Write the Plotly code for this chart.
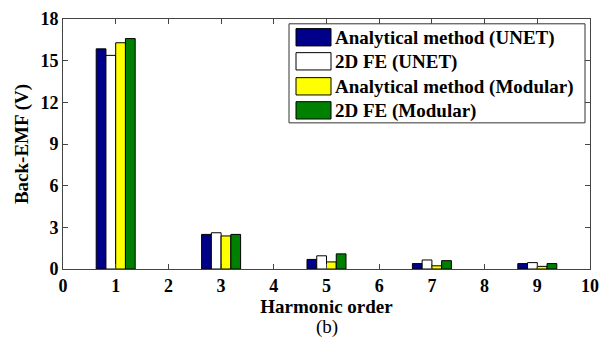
import plotly.graph_objects as go

harmonics = [1, 3, 5, 7, 9]
series_names = ["Analytical method (UNET)", "2D FE (UNET)",
                "Analytical method (Modular)", "2D FE (Modular)"]
analytical_unet = [15.85, 2.49, 0.69, 0.39, 0.39]
fe_unet = [15.38, 2.61, 0.95, 0.65, 0.46]
analytical_modular = [16.29, 2.38, 0.51, 0.23, 0.19]
fe_modular = [16.59, 2.49, 1.09, 0.60, 0.39]
x_ticks = list(range(0, 11))
y_ticks = [0, 3, 6, 9, 12, 15, 18]

colors = ["#00008B", "#FFFFFF", "#FFFF00", "#008000"]
all_values = [analytical_unet, fe_unet, analytical_modular, fe_modular]

W, H = 615, 345
L, R, T, B = 63, 25, 9, 76
pw, ph = W - L - R, H - T - B


def px(x):
    return (x - L) / pw


def py(y):
    return (H - B - y) / ph


bar_w = 0.185
fig = go.Figure()
for i, (name, vals, col) in enumerate(zip(series_names, all_values, colors)):
    fig.add_trace(go.Bar(
        x=harmonics, y=vals, name=name,
        width=bar_w, offset=-2 * bar_w + i * bar_w,
        marker=dict(color=col, line=dict(color="black", width=1)),
        showlegend=False,
    ))

font_family = "Liberation Serif"

# custom legend (box, swatches, labels)
shapes = [dict(type="rect", xref="paper", yref="paper",
               x0=px(289), x1=px(585), y0=py(14), y1=py(117),
               fillcolor="white", line=dict(color="#333", width=1), layer="above")]
annotations = []
row_tops = [19, 44, 70, 95]
for i, (name, col) in enumerate(zip(series_names, colors)):
    t = row_tops[i]
    shapes.append(dict(type="rect", xref="paper", yref="paper",
                       x0=px(296), x1=px(331), y0=py(t), y1=py(t + 18),
                       fillcolor=col, line=dict(color="black", width=1), layer="above"))
    annotations.append(dict(text="<b>" + name + "</b>", xref="paper", yref="paper",
                            x=px(333), y=py(t + 9.5), xanchor="left", yanchor="middle",
                            showarrow=False,
                            font=dict(family=font_family, size=19, color="black")))

annotations.append(dict(
    text="(b)", xref="paper", yref="paper", x=0.5, y=py(329),
    xanchor="center", yanchor="middle", showarrow=False,
    font=dict(family=font_family, size=19, color="black"),
))

fig.update_layout(
    width=W, height=H,
    margin=dict(l=L, r=R, t=T, b=B),
    barmode="overlay",
    paper_bgcolor="white", plot_bgcolor="white",
    font=dict(family=font_family, size=18, color="black"),
    showlegend=False,
    shapes=shapes,
    annotations=annotations,
    xaxis=dict(
        range=[0, 10], tickvals=x_ticks, ticks="inside", ticklen=5,
        showline=True, linecolor="#444", linewidth=1, mirror="ticks",
        tickcolor="#444", showgrid=False, zeroline=False,
        ticklabeloverflow="allow",
        tickfont=dict(family=font_family, size=18, weight="bold"),
        title=dict(text="<b>Harmonic order</b>", standoff=1,
                   font=dict(family=font_family, size=19)),
    ),
    yaxis=dict(
        range=[0, 18], tickvals=y_ticks, ticks="inside", ticklen=5,
        showline=True, linecolor="#444", linewidth=1, mirror="ticks",
        tickcolor="#444", showgrid=False, zeroline=False,
        ticklabeloverflow="allow",
        tickfont=dict(family=font_family, size=18, weight="bold"),
        title=dict(text="<b>Back-EMF (V)</b>", standoff=6,
                   font=dict(family=font_family, size=19)),
    ),
)

fig.write_html("out.html")
